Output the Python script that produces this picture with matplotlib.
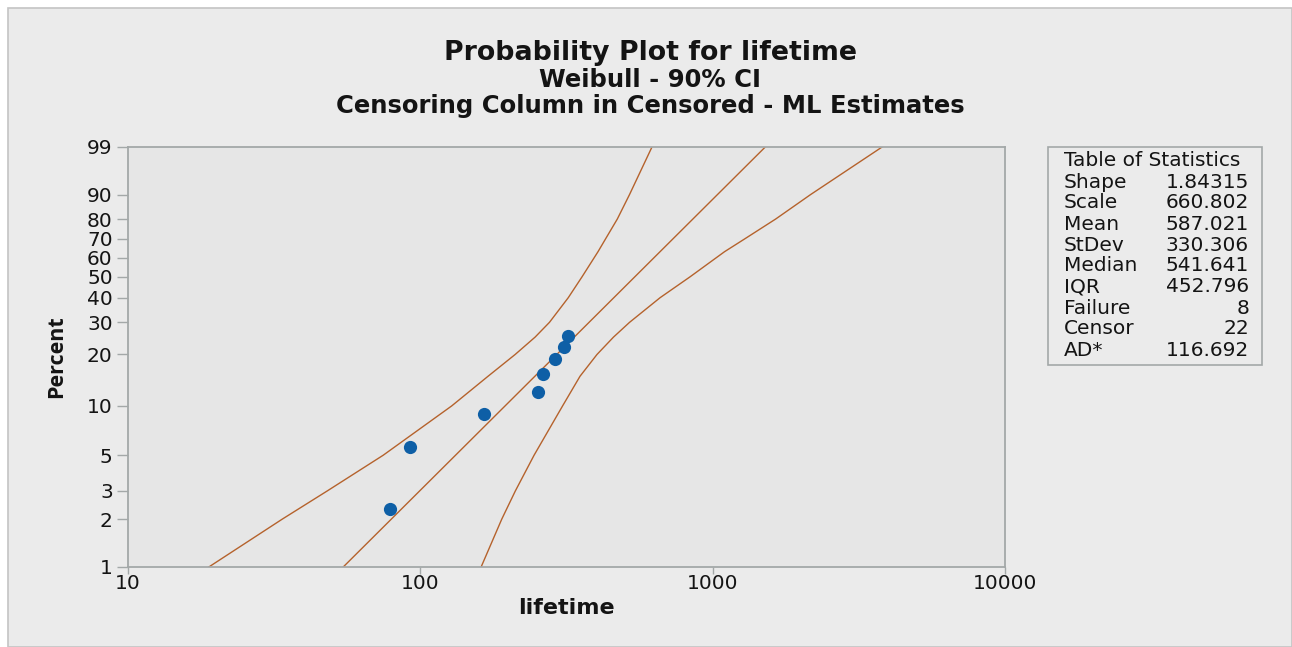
import numpy as np
import matplotlib
matplotlib.use("Agg")
import matplotlib.pyplot as plt
from matplotlib.patches import Rectangle
from matplotlib.ticker import FixedLocator, FixedFormatter, NullLocator

# ---------------- data ----------------
failure_lifetime = [79, 92, 165, 252, 263, 289, 310, 320]
failure_percent = [2.30, 5.59, 8.88, 12.17, 15.46, 18.75, 22.04, 25.33]

weibull_shape = 1.84315
weibull_scale = 660.802

ci_percent = [1, 2, 3, 5, 10, 15, 20, 25, 30, 40, 50, 63.2, 70, 80, 90, 99]
ci_lower_lifetime = [18.9, 33.7, 48.0, 74.6, 128.0, 170.5, 211, 247, 276.5, 320.6, 357.4, 405.3,
                     430, 471.8, 519.6, 620]
ci_upper_lifetime = [161.4, 189.9, 211.3, 244.9, 306.6, 351.8, 402, 458, 519.6, 660.7, 837, 1098,
                     1286, 1642, 2164, 3798]

y_ticks = [1, 2, 3, 5, 10, 20, 30, 40, 50, 60, 70, 80, 90, 99]
x_ticks = [10, 100, 1000, 10000]

stat_names = ["Shape", "Scale", "Mean", "StDev", "Median", "IQR", "Failure", "Censor", "AD*"]
stat_values = ["1.84315", "660.802", "587.021", "330.306", "541.641", "452.796", "8", "22", "116.692"]

# ---------------- figure ----------------
W, H = 1292, 647
fig = plt.figure(figsize=(W / 100, H / 100), dpi=100, facecolor="white")
FONT = ["DejaVu Sans"]
NARROW = ["Open Sans", "DejaVu Sans"]
TXT = "#141414"

panel = Rectangle((8 / W, 0), 1 - 8 / W, 1 - 8 / H, transform=fig.transFigure,
                  facecolor="#ebebeb", edgecolor="#c4c4c4", linewidth=1.2, zorder=-5)
fig.patches.append(panel)

ax = fig.add_axes([128 / W, 1 - 567 / H, (1005 - 128) / W, (567 - 147) / H])
ax.set_zorder(2)
ax.set_facecolor("#e6e6e6")


def fwd(p):
    p = np.clip(np.asarray(p, dtype=float), 1e-9, 100 - 1e-9)
    return np.log(-np.log(1 - p / 100.0))


def inv(w):
    return 100.0 * (1 - np.exp(-np.exp(np.asarray(w, dtype=float))))


ax.set_xscale("log")
ax.set_yscale("function", functions=(fwd, inv))
ax.set_xlim(10, 10000)
ax.set_ylim(1, 99)

line_color = "#b5622c"
# fitted line from the ML estimates
fit_pct = np.array([1.0, 99.0])
fit_life = weibull_scale * (-np.log(1 - fit_pct / 100)) ** (1 / weibull_shape)
ax.plot(fit_life, fit_pct, color=line_color, lw=1.0, zorder=2)
ax.plot(ci_lower_lifetime, ci_percent, color=line_color, lw=1.0, zorder=2)
ax.plot(ci_upper_lifetime, ci_percent, color=line_color, lw=1.0, zorder=2)

ax.plot(failure_lifetime, failure_percent, linestyle="none", marker="o",
        markersize=9.5, color="#0e5fa6", markeredgewidth=0, zorder=3)

ax.xaxis.set_major_locator(FixedLocator(x_ticks))
ax.xaxis.set_major_formatter(FixedFormatter([str(v) for v in x_ticks]))
ax.xaxis.set_minor_locator(NullLocator())
ax.yaxis.set_major_locator(FixedLocator(y_ticks))
ax.yaxis.set_major_formatter(FixedFormatter([str(v) for v in y_ticks]))
ax.yaxis.set_minor_locator(NullLocator())

for s in ax.spines.values():
    s.set_color("#a3a8a8")
    s.set_linewidth(1.3)
ax.tick_params(axis="both", direction="out", width=1.0, color="#a3a8a8",
               labelsize=14.5, labelcolor=TXT)
ax.tick_params(axis="y", length=8, pad=3)
ax.tick_params(axis="x", length=5, pad=0)
for lab in ax.get_xticklabels() + ax.get_yticklabels():
    lab.set_family(FONT)

ax.set_xlabel("lifetime", fontsize=16, family=FONT, fontweight="bold", labelpad=4, color=TXT)
ax.set_ylabel("Percent", fontsize=15.5, family=NARROW, fontweight="bold", labelpad=14, color=TXT)

# titles
fig.text(650 / W, 1 - 53 / H, "Probability Plot for lifetime", ha="center", va="center",
         fontsize=19.3, family=FONT, fontweight="bold", color=TXT)
fig.text(650 / W, 1 - 80 / H, "Weibull - 90% CI", ha="center", va="center",
         fontsize=17.5, family=FONT, fontweight="bold", color=TXT)
fig.text(650 / W, 1 - 106 / H, "Censoring Column in Censored - ML Estimates", ha="center", va="center",
         fontsize=17.5, family=FONT, fontweight="bold", color=TXT)

# statistics table
box = Rectangle((1048 / W, 1 - 365 / H), (1262 - 1048) / W, (365 - 147) / H,
                transform=fig.transFigure, facecolor="#ebebeb", edgecolor="#a3a8a8",
                linewidth=1.2, zorder=1)
fig.patches.append(box)
fig.text(1064 / W, 1 - 160 / H, "Table of Statistics", ha="left", va="center",
         fontsize=14.5, family=FONT, color=TXT)
for i, (n, v) in enumerate(zip(stat_names, stat_values)):
    y = 1 - (182 + i * 21) / H
    fig.text(1064 / W, y, n, ha="left", va="center", fontsize=14.5, family=FONT, color=TXT)
    fig.text(1249 / W, y, v, ha="right", va="center", fontsize=14.5, family=FONT, color=TXT)

fig.savefig("out.png", dpi=100, facecolor=fig.get_facecolor())
